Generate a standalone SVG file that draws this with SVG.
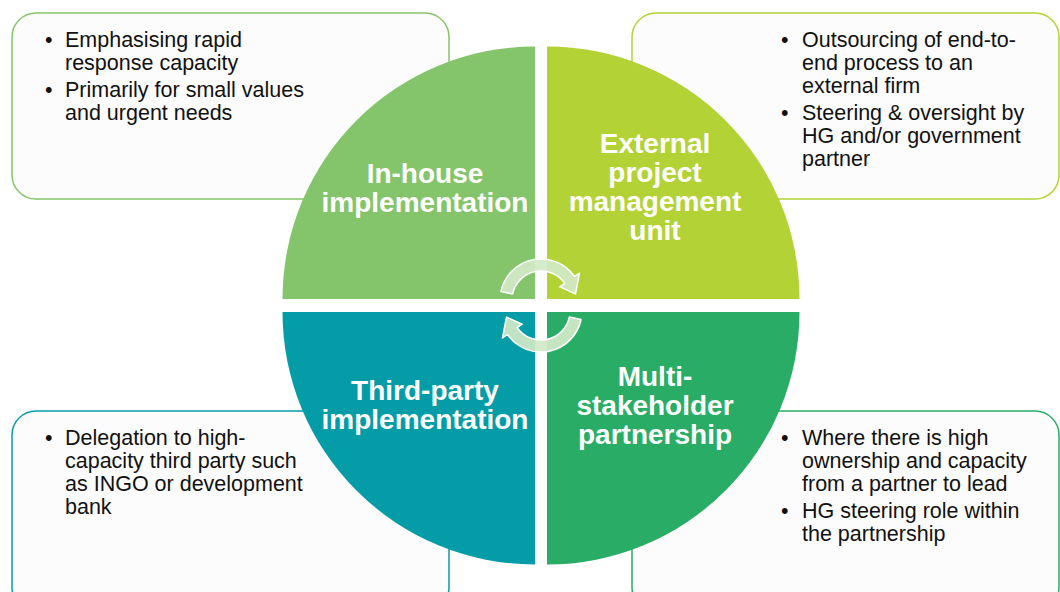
<svg xmlns="http://www.w3.org/2000/svg" width="1060" height="592" viewBox="0 0 1060 592">
  <style>
    .box { fill: #fcfcfc; stroke-width: 1.5; }
    .txt { font-family: "Liberation Sans", Arial, sans-serif; font-size: 21.5px; fill: #111; }
    .lbl { font-family: "Liberation Sans", Arial, sans-serif; font-size: 28px; font-weight: bold; fill: #ffffff; text-anchor: middle; }
    .arr { fill: #d2e8c8; fill-opacity: 0.92; stroke: #ffffff; stroke-width: 1.5; stroke-linejoin: round; }
  </style>
  <defs>
    <path id="circArrow" d="M500.9,291.5 A41,41 0 0 1 574.6,276.5 L579.5,273.0 L575.5,293.9 L559.8,286.8 L564.8,283.4 A29,29 0 0 0 512.6,294.0 Z"/>
  </defs>
  <rect width="1060" height="592" fill="#ffffff"/>

  <g id="box-inhouse">
    <rect class="box" x="12" y="13" width="437" height="186" rx="24" stroke="#86c56c"/>
    <text class="txt" x="45" y="47">•</text>
    <text class="txt" x="65" y="47">Emphasising rapid</text>
    <text class="txt" x="65" y="70">response capacity</text>
    <text class="txt" x="45" y="97">•</text>
    <text class="txt" x="65" y="97">Primarily for small values</text>
    <text class="txt" x="65" y="120">and urgent needs</text>
  </g>

  <g id="box-external">
    <rect class="box" x="632" y="13" width="427" height="186" rx="24" stroke="#b3d337"/>
    <text class="txt" x="781" y="47">•</text>
    <text class="txt" x="802" y="47">Outsourcing of end-to-</text>
    <text class="txt" x="802" y="70">end process to an</text>
    <text class="txt" x="802" y="93">external firm</text>
    <text class="txt" x="781" y="120">•</text>
    <text class="txt" x="802" y="120">Steering &amp; oversight by</text>
    <text class="txt" x="802" y="143">HG and/or government</text>
    <text class="txt" x="802" y="166">partner</text>
  </g>

  <g id="box-thirdparty">
    <rect class="box" x="12" y="411" width="437" height="200" rx="24" stroke="#0a9ca6"/>
    <text class="txt" x="45" y="445">•</text>
    <text class="txt" x="65" y="445">Delegation to high-</text>
    <text class="txt" x="65" y="468">capacity third party such</text>
    <text class="txt" x="65" y="491">as INGO or development</text>
    <text class="txt" x="65" y="514">bank</text>
  </g>

  <g id="box-multi">
    <rect class="box" x="632" y="411" width="427" height="200" rx="24" stroke="#2aad66"/>
    <text class="txt" x="781" y="445">•</text>
    <text class="txt" x="802" y="445">Where there is high</text>
    <text class="txt" x="802" y="468">ownership and capacity</text>
    <text class="txt" x="802" y="491">from a partner to lead</text>
    <text class="txt" x="781" y="518">•</text>
    <text class="txt" x="802" y="518">HG steering role within</text>
    <text class="txt" x="802" y="541">the partnership</text>
  </g>

  <g id="node-inhouse">
    <path d="M535,299 L282.5,299 A252.5,252.5 0 0 1 535,46.5 Z" fill="#84c46a"/>
    <text class="lbl" x="425" y="183">In-house</text>
    <text class="lbl" x="425" y="212">implementation</text>
  </g>

  <g id="node-external">
    <path d="M547,299 L547,46.5 A252.5,252.5 0 0 1 799.5,299 Z" fill="#b2d235"/>
    <text class="lbl" x="655" y="153">External</text>
    <text class="lbl" x="655" y="182">project</text>
    <text class="lbl" x="655" y="211">management</text>
    <text class="lbl" x="655" y="240">unit</text>
  </g>

  <g id="node-thirdparty">
    <path d="M535,312 L535,564.5 A252.5,252.5 0 0 1 282.5,312 Z" fill="#049ca6"/>
    <text class="lbl" x="425" y="400">Third-party</text>
    <text class="lbl" x="425" y="429">implementation</text>
  </g>

  <g id="node-multi">
    <path d="M547,312 L799.5,312 A252.5,252.5 0 0 1 547,564.5 Z" fill="#29ad66"/>
    <text class="lbl" x="655" y="386">Multi-</text>
    <text class="lbl" x="655" y="415">stakeholder</text>
    <text class="lbl" x="655" y="444">partnership</text>
  </g>

  <g id="connectors">
    <use href="#circArrow" class="arr"/>
    <use href="#circArrow" class="arr" transform="rotate(180 541 305.5)"/>
  </g>
</svg>
